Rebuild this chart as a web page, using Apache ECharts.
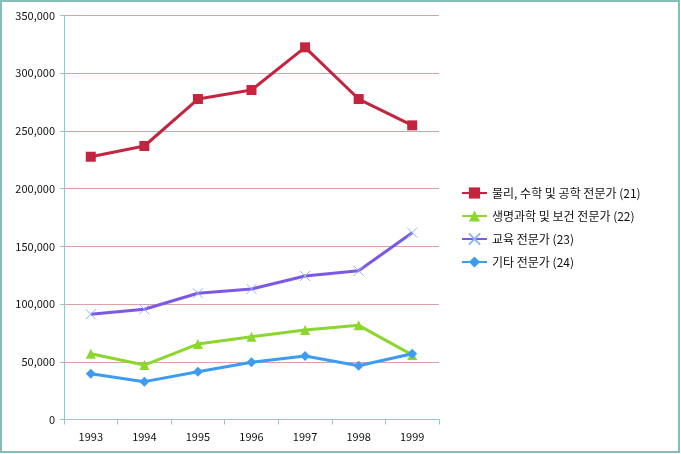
<!DOCTYPE html>
<html>
<head>
<meta charset="utf-8">
<script src="https://cdn.jsdelivr.net/npm/echarts@6/dist/echarts.min.js"></script>
<style>html,body{margin:0;padding:0;background:#fff}#c{width:681px;height:454px}</style>
</head>
<body>
<div id="c"></div>
<script>
var years = ['1993','1994','1995','1996','1997','1998','1999'];
var seriesNames = ['물리, 수학 및 공학 전문가 (21)','생명과학 및 보건 전문가 (22)','교육 전문가 (23)','기타 전문가 (24)'];
var physics = [227700, 237000, 277700, 285500, 322500, 277700, 254900];
var lifeHealth = [57000, 47200, 65400, 71800, 77600, 81600, 56000];
var education = [91200, 95500, 109400, 113100, 124400, 128900, 161900];
var others = [39700, 32800, 41400, 49600, 55000, 46600, 57000];
var yTicks = [0, 50000, 100000, 150000, 200000, 250000, 300000, 350000];

var font = 'Noto Sans CJK KR';
var chart = echarts.init(document.getElementById('c'));
function mk(name, data, color, symbol, size, extra) {
  var s = {
    name: name, type: 'line', data: data,
    symbol: symbol, symbolSize: size,
    lineStyle: {color: color, width: 3},
    itemStyle: {color: color},
    emphasis: {disabled: true}
  };
  for (var k in extra) s[k] = extra[k];
  return s;
}
chart.setOption({
  animation: false,
  textStyle: {fontFamily: font},
  graphic: [{type: 'rect', shape: {x: 1, y: 1, width: 678, height: 451},
    style: {fill: 'none', stroke: '#86bcbc', lineWidth: 2}}],
  grid: {left: 64, right: 242, top: 15.6, bottom: 34.5, containLabel: false},
  legend: {
    orient: 'vertical', left: 456, top: 181,
    itemWidth: 25, itemHeight: 14, itemGap: 9,
    textStyle: {fontSize: 12, color: '#111', fontFamily: font, lineHeight: 14},
    data: seriesNames
  },
  xAxis: {
    type: 'category', data: years, boundaryGap: true,
    axisLine: {lineStyle: {color: '#86cccc', width: 1}},
    axisTick: {show: true, length: 5, lineStyle: {color: '#86cccc'}},
    axisLabel: {fontSize: 11, color: '#111', margin: 12}
  },
  yAxis: {
    type: 'value', min: 0, max: 350000, interval: 50000,
    axisLine: {show: true, lineStyle: {color: '#86cccc'}},
    axisTick: {show: true, length: 4, lineStyle: {color: '#86cccc'}},
    splitLine: {lineStyle: {color: '#dca0a8', width: 1}},
    axisLabel: {fontSize: 11, color: '#111', margin: 9,
      formatter: function (v) { return yTicks.indexOf(v) >= 0 ? v.toLocaleString('en-US') : ''; }}
  },
  series: [
    mk(seriesNames[0], physics, '#c3253e', 'rect', 10, {}),
    mk(seriesNames[1], lifeHealth, '#8cd630', 'triangle', 10, {}),
    mk(seriesNames[2], education, '#7d58e6', 'path://M0,0L10,10M10,0L0,10', 10,
      {itemStyle: {color: '#7d58e6', borderColor: '#8fb4f4', borderWidth: 1}}),
    mk(seriesNames[3], others, '#3d9cf0', 'diamond', 10, {})
  ]
});
</script>
</body>
</html>
